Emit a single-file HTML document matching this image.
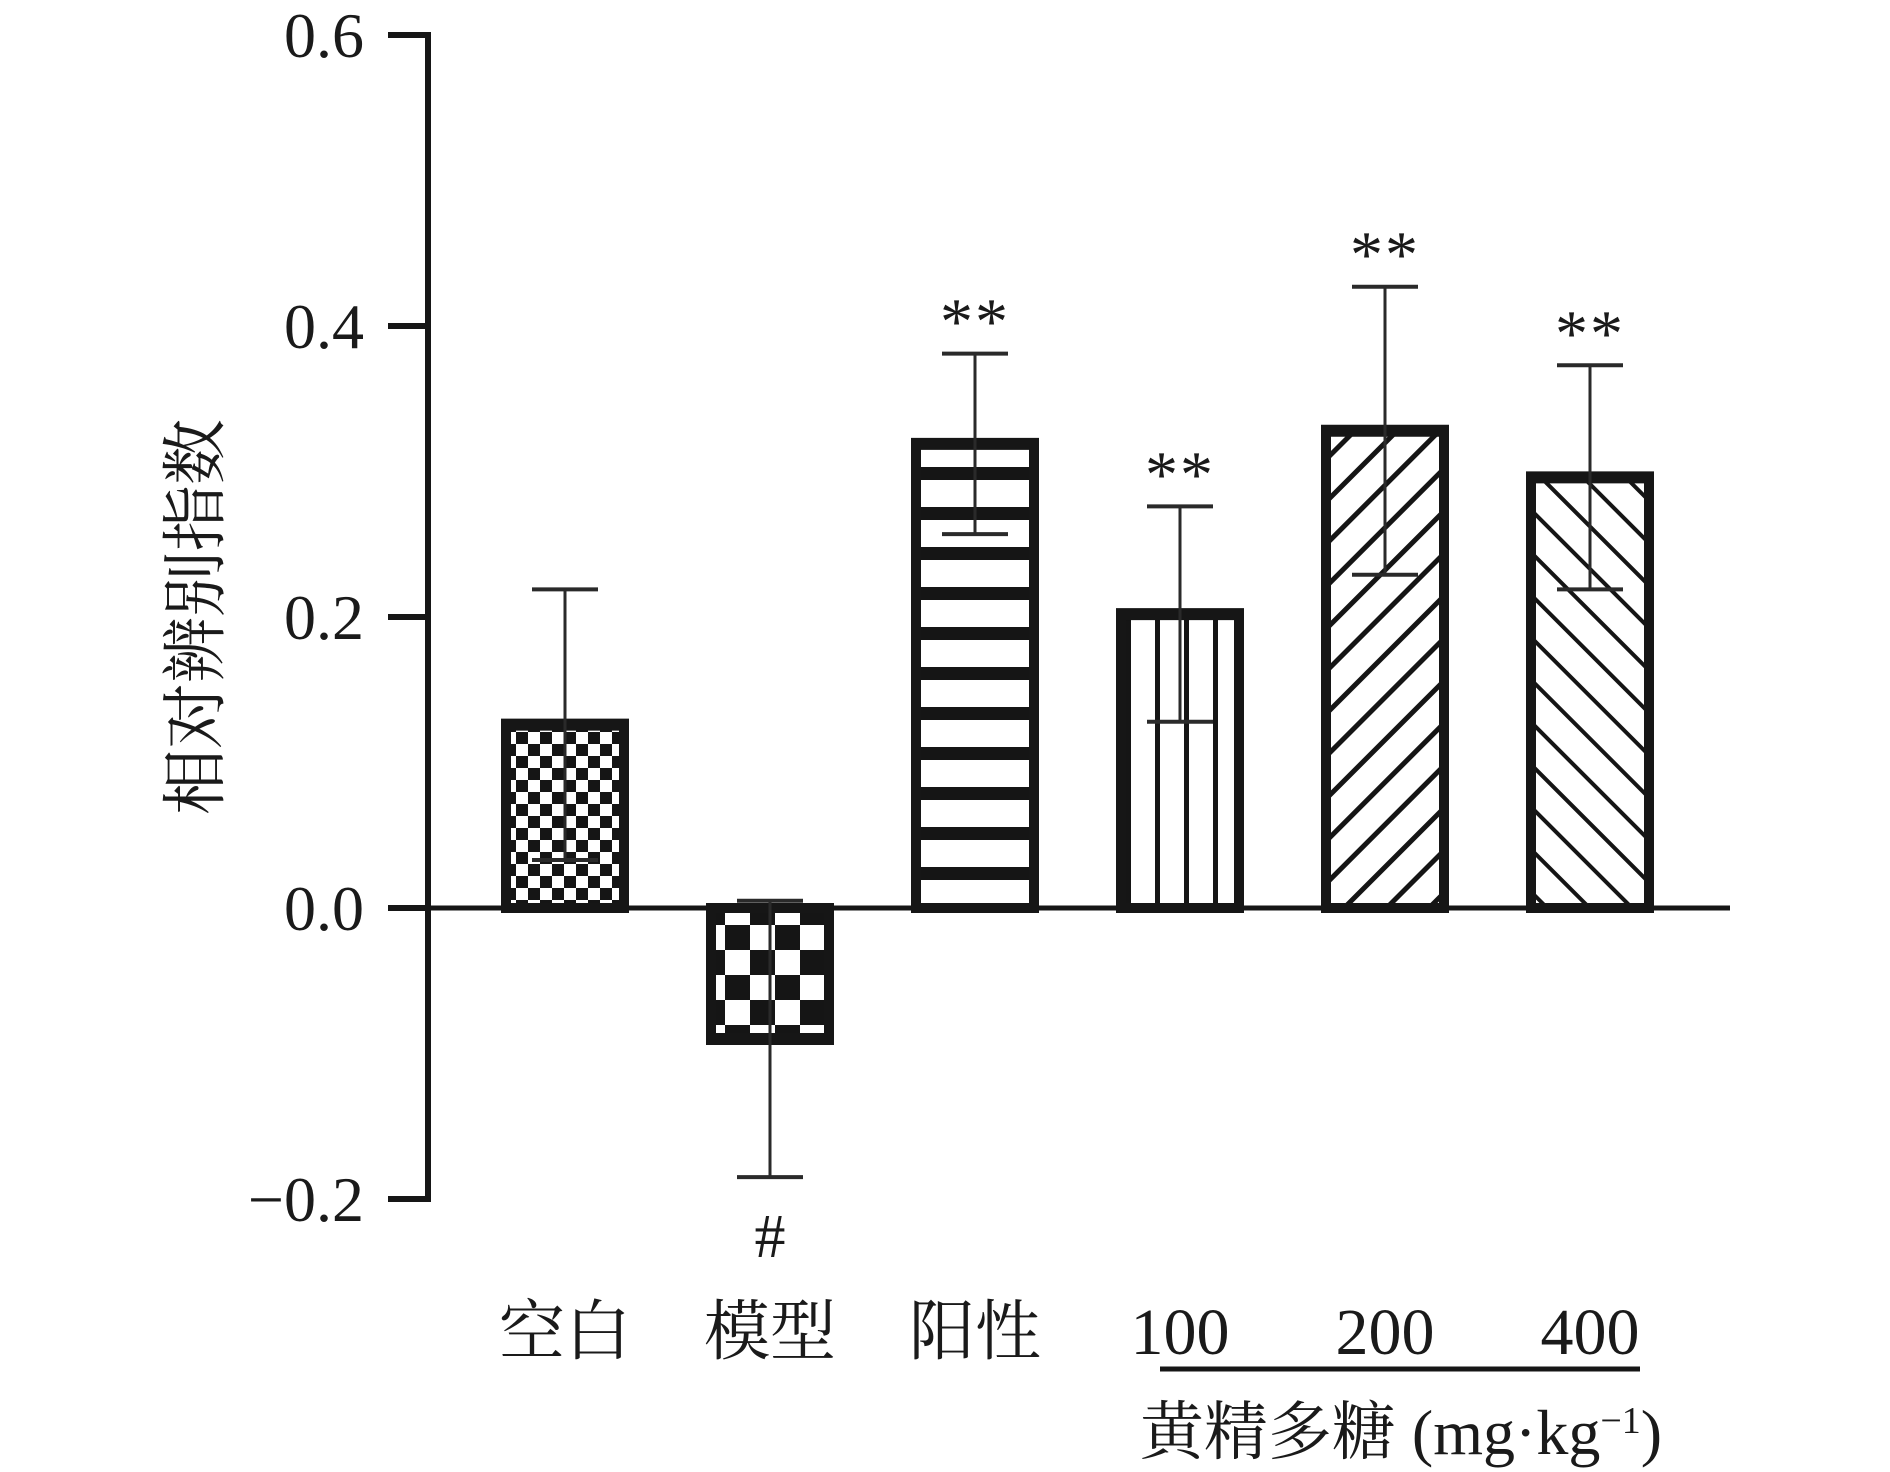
<!DOCTYPE html>
<html><head><meta charset="utf-8"><style>
html,body{margin:0;padding:0;background:#fff;}
svg{display:block;}
text{font-family:"Liberation Serif","Noto Serif CJK SC",serif;fill:#1a1a1a;}
</style></head><body>
<svg id="chart" width="1890" height="1472" viewBox="0 0 1890 1472" xmlns="http://www.w3.org/2000/svg">
<defs>
<pattern id="pCheckS" patternUnits="userSpaceOnUse" width="24" height="24"><rect width="24" height="24" fill="#fff"/><rect width="12" height="12" fill="#151515"/><rect x="12" y="12" width="12" height="12" fill="#151515"/></pattern>
<pattern id="pCheckL" patternUnits="userSpaceOnUse" width="50" height="50" x="0" y="0"><rect width="50" height="50" fill="#fff"/><rect width="25" height="25" fill="#151515"/><rect x="25" y="25" width="25" height="25" fill="#151515"/></pattern>
<pattern id="pHoriz" patternUnits="userSpaceOnUse" width="40" height="40"><rect width="40" height="40" fill="#fff"/><rect y="27" width="40" height="14" fill="#151515"/></pattern>
<pattern id="pVert" patternUnits="userSpaceOnUse" width="29" height="29"><rect width="29" height="29" fill="#fff"/><rect x="24" width="5" height="29" fill="#151515"/></pattern>
<pattern id="pDiagF" patternUnits="userSpaceOnUse" width="30" height="30" patternTransform="rotate(45)"><rect width="30" height="30" fill="#fff"/><rect width="5" height="30" fill="#151515"/></pattern>
<pattern id="pDiagB" patternUnits="userSpaceOnUse" width="30" height="30" patternTransform="rotate(-45)"><rect width="30" height="30" fill="#fff"/><rect width="4" height="30" fill="#151515"/></pattern>
</defs>
<g id="plot"></g>
</svg>
<script>
const categories = ["空白","模型","阳性","100","200","400"];
const values = [0.126, -0.090, 0.319, 0.202, 0.328, 0.296];
const errors = [0.093, 0.095, 0.062, 0.074, 0.099, 0.077];
const marks = ["", "#", "**", "**", "**", "**"];
const yTicks = [-0.2, 0.0, 0.2, 0.4, 0.6];
const yTickLabels = ["\u22120.2","0.0","0.2","0.4","0.6"];
const patterns = ["pCheckS","pCheckL","pHoriz","pVert","pDiagF","pDiagB"];

const NS = "http://www.w3.org/2000/svg";
const g = document.getElementById('plot');
const y0 = 908, perUnit = 291/0.2;
function yScale(v){ return y0 - v*perUnit; }
function xScale(i){ return 565 + i*205; }
function mk(tag, attrs, parent){ const e=document.createElementNS(NS,tag); for(const k in attrs) e.setAttribute(k,attrs[k]); (parent||g).appendChild(e); return e; }
const col="#161616";

let ax = mk('line',{x1:428,y1:yScale(0.6)-3,x2:428,y2:yScale(-0.2)+3,stroke:col,'stroke-width':6});


yTicks.forEach((t,i)=>{
  const yy=yScale(t);
  const tk=mk('line',{x1:388,y1:yy,x2:431,y2:yy,stroke:col,'stroke-width':6});
  
  
  const tl=mk('text',{x:364,y:yy+22,'text-anchor':'end','font-size':64});
  tl.textContent=yTickLabels[i];
  
  
});
let zl = mk('line',{x1:388,y1:y0,x2:1730,y2:y0,stroke:col,'stroke-width':5});



const bw=128;
values.forEach((v,i)=>{
  const cx=xScale(i), top=Math.min(yScale(v),y0), bot=Math.max(yScale(v),y0);
  const b=mk('rect',{x:cx-bw/2+5,y:top,width:bw-10,height:bot-top,fill:'url(#'+patterns[i]+')',stroke:col,'stroke-width':10});
  
  
  const edge = v>=0 ? top : bot;
  const cap=mk('line',{x1:cx-bw/2,y1:edge,x2:cx+bw/2,y2:edge,stroke:col,'stroke-width':12});
  
  
  const hi=yScale(v+errors[i]), lo=yScale(v-errors[i]);
  const el=mk('line',{x1:cx,y1:hi,x2:cx,y2:lo,stroke:'#2a2a2a','stroke-width':3});
  
  
  [hi,lo].forEach(yy=>{
    const c=mk('line',{x1:cx-33,y1:yy,x2:cx+33,y2:yy,stroke:'#2a2a2a','stroke-width':4});
    
    
  });
  if(marks[i]){
    const m=mk('text',{x:cx,'text-anchor':'middle'});
    if(marks[i]==='**'){ m.setAttribute('y',hi-10); m.setAttribute('font-size',66); m.setAttribute('letter-spacing',2); m.textContent='**'; }
    else { m.setAttribute('y',lo+80); m.setAttribute('font-size',62); m.textContent=marks[i]; }
    
    
  }
  const xl=mk('text',{x:cx,y:1354,'text-anchor':'middle','font-size':66});
  xl.textContent=categories[i];
  
  
});
let ul=mk('line',{x1:1160,y1:1369,x2:1640,y2:1369,stroke:col,'stroke-width':5});


let gl=mk('text',{x:1401,y:1454,'text-anchor':'middle','font-size':64});
gl.innerHTML='黄精多糖 (mg·kg<tspan baseline-shift="super" font-size="38">−1</tspan>)';


let yt=mk('text',{x:0,y:0,'text-anchor':'middle','font-size':66,transform:'translate(218,617) rotate(-90)'});
yt.textContent='相对辨别指数';


</script>
</body></html>
